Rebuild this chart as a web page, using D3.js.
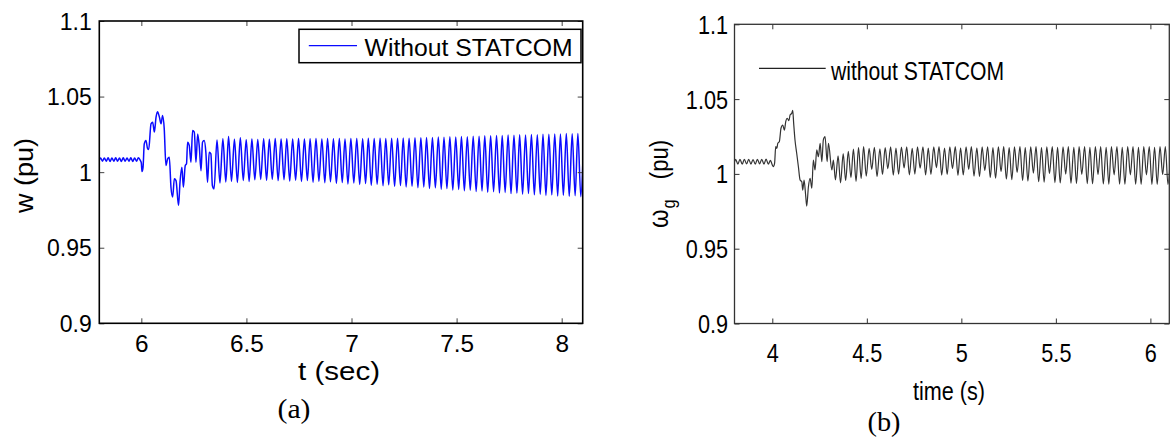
<!DOCTYPE html>
<html><head><meta charset="utf-8">
<script src="https://cdn.jsdelivr.net/npm/d3@7"></script>
<style>body{margin:0;background:#fff}svg{display:block}</style>
</head><body>
<svg id="c" width="1171" height="440"></svg>
<script>
// ---------------- DATA ----------------
const yTicks = [0.9, 0.95, 1, 1.05, 1.1];
const xTicksA = [6, 6.5, 7, 7.5, 8];
const xTicksB = [4, 4.5, 5, 5.5, 6];
const legendA = "Without STATCOM";
const legendB = "without STATCOM";

// Panel (a): rotor speed w (pu) vs t (sec)
const aPreFault = [[5.800,1.0082],[5.806,1.0094],[5.815,1.0072],[5.824,1.0094],[5.833,1.0072],[5.842,1.0095],[5.851,1.0071],[5.860,1.0094],[5.869,1.0072],[5.878,1.0095],[5.887,1.0072],[5.896,1.0094],[5.905,1.0071],[5.914,1.0095],[5.923,1.0072],[5.932,1.0094],[5.941,1.0072],[5.950,1.0095],[5.959,1.0071],[5.968,1.0094],[5.977,1.0072],[5.986,1.0095],[5.995,1.0078]];
const aTransient = [[6.000,1.0060],[6.003,1.0004],[6.008,1.0030],[6.014,1.0187],[6.022,1.0209],[6.030,1.0154],[6.035,1.0150],[6.046,1.0320],[6.054,1.0330],[6.062,1.0265],[6.070,1.0364],[6.077,1.0400],[6.086,1.0364],[6.094,1.0320],[6.101,1.0374],[6.109,1.0286],[6.117,1.0044],[6.125,1.0088],[6.133,1.0099],[6.141,0.9900],[6.149,0.9835],[6.157,0.9956],[6.165,0.9944],[6.177,0.9779],[6.184,0.9934],[6.193,1.0033],[6.200,0.9900],[6.209,1.0044],[6.215,1.0055],[6.220,1.0198],[6.228,1.0176],[6.236,1.0066],[6.244,1.0275],[6.252,1.0265],[6.260,1.0066],[6.268,1.0253],[6.276,1.0165],[6.284,1.0010],[6.291,1.0198],[6.299,1.0209],[6.307,1.0132],[6.315,0.9934],[6.323,1.0132],[6.331,1.0121],[6.338,0.9912],[6.346,0.9890]];
const aSteady = [[6.360,1.0212],[6.374,0.9928],[6.388,1.0221],[6.402,0.9935],[6.415,1.0236],[6.429,0.9940],[6.443,1.0218],[6.457,0.9932],[6.471,1.0228],[6.485,0.9945],[6.499,1.0214],[6.513,0.9938],[6.526,1.0219],[6.540,0.9950],[6.554,1.0216],[6.568,0.9952],[6.582,1.0221],[6.596,0.9946],[6.609,1.0218],[6.623,0.9953],[6.637,1.0222],[6.651,0.9944],[6.665,1.0219],[6.679,0.9950],[6.692,1.0221],[6.706,0.9941],[6.720,1.0220],[6.734,0.9947],[6.748,1.0222],[6.762,0.9938],[6.776,1.0219],[6.790,0.9944],[6.803,1.0221],[6.817,0.9934],[6.831,1.0222],[6.845,0.9940],[6.859,1.0220],[6.873,0.9930],[6.886,1.0222],[6.900,0.9936],[6.914,1.0221],[6.928,0.9926],[6.942,1.0223],[6.956,0.9931],[6.969,1.0220],[6.983,0.9922],[6.997,1.0222],[7.011,0.9928],[7.025,1.0223],[7.039,0.9919],[7.053,1.0221],[7.067,0.9925],[7.080,1.0224],[7.094,0.9914],[7.108,1.0222],[7.122,0.9920],[7.136,1.0224],[7.150,0.9910],[7.163,1.0223],[7.177,0.9916],[7.191,1.0225],[7.205,0.9906],[7.219,1.0224],[7.233,0.9911],[7.246,1.0226],[7.260,0.9902],[7.274,1.0225],[7.288,0.9907],[7.302,1.0228],[7.316,0.9897],[7.330,1.0227],[7.344,0.9902],[7.357,1.0230],[7.371,0.9892],[7.385,1.0229],[7.399,0.9897],[7.413,1.0232],[7.427,0.9887],[7.440,1.0231],[7.454,0.9892],[7.468,1.0234],[7.482,0.9882],[7.496,1.0233],[7.510,0.9886],[7.523,1.0236],[7.537,0.9877],[7.551,1.0235],[7.565,0.9881],[7.579,1.0238],[7.593,0.9872],[7.607,1.0237],[7.621,0.9876],[7.634,1.0240],[7.648,0.9867],[7.662,1.0240],[7.676,0.9871],[7.690,1.0243],[7.704,0.9862],[7.717,1.0242],[7.731,0.9866],[7.745,1.0245],[7.759,0.9858],[7.773,1.0244],[7.787,0.9862],[7.800,1.0247],[7.814,0.9854],[7.828,1.0246],[7.842,0.9858],[7.856,1.0249],[7.870,0.9850],[7.884,1.0248],[7.898,0.9854],[7.911,1.0251],[7.925,0.9846],[7.939,1.0250],[7.953,0.9850],[7.967,1.0253],[7.981,0.9843],[7.994,1.0252],[8.008,0.9847],[8.022,1.0255],[8.036,0.9840],[8.050,1.0254],[8.064,0.9844],[8.077,1.0256],[8.091,0.9838],[8.105,1.0255]];

// Panel (b): generator speed wg (pu) vs time (s)
const bPreFault = [[3.800,1.0080],[3.806,1.0097],[3.818,1.0066],[3.829,1.0098],[3.841,1.0065],[3.852,1.0097],[3.864,1.0067],[3.875,1.0098],[3.887,1.0066],[3.898,1.0096],[3.910,1.0065],[3.921,1.0098],[3.933,1.0067],[3.944,1.0097],[3.956,1.0066],[3.967,1.0099],[3.979,1.0065],[3.990,1.0090],[4.000,1.0060],[4.005,1.0048]];
const bTransient = [[4.012,1.0070],[4.018,1.0182],[4.024,1.0170],[4.029,1.0205],[4.037,1.0215],[4.046,1.0305],[4.055,1.0327],[4.064,1.0293],[4.071,1.0349],[4.079,1.0372],[4.088,1.0356],[4.094,1.0394],[4.103,1.0405],[4.108,1.0425],[4.113,1.0338],[4.120,1.0227],[4.129,1.0138],[4.138,1.0048],[4.147,0.9959],[4.156,0.9948],[4.161,0.9892],[4.168,0.9959],[4.177,0.9848],[4.182,0.9785],[4.191,0.9914],[4.200,0.9971],[4.209,0.9904],[4.217,1.0093],[4.226,1.0026],[4.235,1.0160],[4.244,1.0115],[4.253,1.0205],[4.262,1.0082],[4.270,1.0227],[4.279,1.0249],[4.290,1.0082],[4.297,1.0205],[4.315,1.0026],[4.323,1.0093],[4.334,0.9960],[4.348,1.0120],[4.361,0.9940],[4.375,1.0135],[4.388,0.9955],[4.402,1.0150],[4.416,0.9975],[4.429,1.0165],[4.443,0.9950],[4.456,1.0175],[4.470,0.9970]];
const bSteady = [[4.483,1.0182],[4.497,0.9985],[4.512,1.0170],[4.526,1.0030],[4.540,1.0178],[4.554,0.9982],[4.569,1.0168],[4.583,0.9996],[4.597,1.0176],[4.611,1.0035],[4.626,1.0180],[4.640,0.9992],[4.654,1.0172],[4.668,0.9998],[4.683,1.0179],[4.697,1.0040],[4.711,1.0181],[4.725,0.9994],[4.740,1.0170],[4.754,0.9999],[4.768,1.0180],[4.782,1.0038],[4.797,1.0181],[4.811,0.9993],[4.825,1.0172],[4.839,0.9997],[4.854,1.0180],[4.868,1.0042],[4.882,1.0182],[4.896,0.9992],[4.911,1.0173],[4.925,0.9996],[4.939,1.0181],[4.953,1.0036],[4.968,1.0182],[4.982,0.9990],[4.996,1.0174],[5.010,0.9993],[5.025,1.0181],[5.039,1.0030],[5.053,1.0182],[5.067,0.9985],[5.082,1.0174],[5.096,0.9982],[5.110,1.0180],[5.124,1.0022],[5.139,1.0181],[5.153,0.9976],[5.167,1.0175],[5.181,0.9972],[5.196,1.0181],[5.210,1.0015],[5.224,1.0182],[5.238,0.9966],[5.253,1.0175],[5.267,0.9962],[5.281,1.0181],[5.295,1.0010],[5.310,1.0182],[5.324,0.9956],[5.338,1.0176],[5.352,0.9952],[5.367,1.0180],[5.381,1.0005],[5.395,1.0182],[5.409,0.9948],[5.424,1.0176],[5.438,0.9945],[5.452,1.0181],[5.466,1.0002],[5.481,1.0182],[5.495,0.9942],[5.509,1.0177],[5.523,0.9940],[5.538,1.0181],[5.552,0.9998],[5.566,1.0183],[5.580,0.9938],[5.595,1.0177],[5.609,0.9936],[5.623,1.0182],[5.637,0.9996],[5.652,1.0183],[5.666,0.9935],[5.680,1.0177],[5.694,0.9934],[5.709,1.0182],[5.723,0.9995],[5.737,1.0183],[5.751,0.9933],[5.766,1.0178],[5.780,0.9932],[5.794,1.0182],[5.808,0.9994],[5.823,1.0183],[5.837,0.9932],[5.851,1.0178],[5.865,0.9931],[5.880,1.0182],[5.894,0.9994],[5.908,1.0183],[5.922,0.9931],[5.937,1.0178],[5.951,0.9930],[5.965,1.0182],[5.979,0.9994],[5.994,1.0183],[6.008,0.9930],[6.022,1.0178],[6.036,0.9930],[6.051,1.0182],[6.065,0.9995],[6.079,1.0183],[6.093,0.9930],[6.108,1.0180]];

// ---------------- DRAW ----------------
const svg = d3.select("#c");
svg.append("rect").attr("width",1171).attr("height",440).attr("fill","#fff");

function panel(o){
  const g = svg.append("g");
  const x = d3.scaleLinear().domain(o.xDomain).range([o.left,o.right]);
  const y = d3.scaleLinear().domain([0.9,1.1]).range([o.bottom,o.top]);
  const fmt = d => String(d);
  const cid = "clip"+o.id;
  svg.append("clipPath").attr("id",cid).append("rect")
    .attr("x",o.left).attr("y",o.top).attr("width",o.right-o.left).attr("height",o.bottom-o.top);

  const data = [].concat(...o.series);
  g.append("path").datum(data)
    .attr("clip-path","url(#"+cid+")")
    .attr("fill","none").attr("stroke",o.lineColor).attr("stroke-width",o.lineWidth)
    .attr("stroke-linejoin","round")
    .attr("d", d3.line().curve(d3.curveMonotoneX).x(d=>x(d[0])).y(d=>y(d[1])));

  const ax = (gen, tx, ty) => {
    const a = g.append("g").attr("transform",`translate(${tx},${ty})`).call(gen);
    a.select(".domain").remove();
    a.selectAll(".tick line").attr("stroke",o.tickColor);
    a.selectAll("text").attr("font-family",o.font).attr("fill","#000");
    return a;
  };
  const left = ax(d3.axisLeft(y).tickValues(yTicks).tickFormat(fmt).tickSize(-5).tickPadding(0), o.left, 0);
  left.selectAll("text").attr("font-size",o.tickFont).attr("dy","0.35em")
    .attr("x", -o.yLabGap/o.tickScaleY).attr("transform",`scale(${o.tickScaleY},1)`);
  ax(d3.axisRight(y).tickValues(yTicks).tickFormat("").tickSize(-5), o.right, 0);
  const bottom = ax(d3.axisBottom(x).tickValues(o.xTicks).tickFormat(fmt).tickSize(-5).tickPadding(0), 0, o.bottom);
  bottom.selectAll("text").attr("font-size",o.tickFont).attr("dy",null)
    .attr("y", o.xLabBase).attr("transform",`scale(${o.tickScaleX},1)`).attr("x", 0);
  ax(d3.axisTop(x).tickValues(o.xTicks).tickFormat("").tickSize(-5), 0, o.top);

  g.append("rect").attr("x",o.left).attr("y",o.top)
    .attr("width",o.right-o.left).attr("height",o.bottom-o.top)
    .attr("fill","none").attr("stroke",o.frameColor).attr("stroke-width",o.frameWidth);
  return {x,y,g};
}

// ---- Panel (a)
const A = panel({id:"a", xDomain:[5.8,8.1], xTicks:xTicksA, left:99.3, right:582.7, top:21, bottom:323.3,
  series:[aPreFault,aTransient,aSteady], lineColor:"#0a0aff", lineWidth:1.5,
  tickColor:"#444", frameColor:"#000", frameWidth:1.6, font:"Liberation Sans, Arial, sans-serif",
  tickFont:23, tickScaleX:1.06, tickScaleY:1, yLabGap:7.5, xLabBase:28.4});

A.g.append("rect").attr("x",299).attr("y",29.3).attr("width",282).attr("height",33.4)
  .attr("fill","#fff").attr("stroke","#000").attr("stroke-width",1.5);
A.g.append("line").attr("x1",308.8).attr("x2",357).attr("y1",45.7).attr("y2",45.7)
  .attr("stroke","#0a0aff").attr("stroke-width",1.3);
A.g.append("text").attr("x",364.6).attr("y",56).text(legendA)
  .attr("font-family","Liberation Sans, Arial, sans-serif").attr("font-size",23.5)
  .attr("textLength",208).attr("lengthAdjust","spacingAndGlyphs");
A.g.append("text").attr("transform","translate(33,175.5) rotate(-90)").attr("text-anchor","middle")
  .attr("font-family","Liberation Sans, Arial, sans-serif").attr("font-size",26)
  .attr("textLength",75).attr("lengthAdjust","spacingAndGlyphs").text("w (pu)");
A.g.append("text").attr("x",339).attr("y",380).attr("text-anchor","middle")
  .attr("font-family","Liberation Sans, Arial, sans-serif").attr("font-size",25)
  .attr("textLength",82).attr("lengthAdjust","spacingAndGlyphs").text("t (sec)");
A.g.append("text").attr("x",294).attr("y",418).attr("text-anchor","middle")
  .attr("font-family","'Liberation Serif', 'Times New Roman', serif").attr("font-size",27)
  .attr("textLength",33).attr("lengthAdjust","spacingAndGlyphs").text("(a)");

// ---- Panel (b)
const B = panel({id:"b", xDomain:[3.8,6.1], xTicks:xTicksB, left:734.5, right:1169.3, top:24.3, bottom:323.5,
  series:[bPreFault,bTransient,bSteady], lineColor:"#333", lineWidth:1.2,
  tickColor:"#333", frameColor:"#333", frameWidth:1.3, font:"Liberation Sans, Arial, sans-serif",
  tickFont:25.5, tickScaleX:0.85, tickScaleY:0.85, yLabGap:6.5, xLabBase:38.2});

B.g.append("line").attr("x1",759).attr("x2",825.7).attr("y1",68.3).attr("y2",68.3)
  .attr("stroke","#222").attr("stroke-width",1.2);
B.g.append("text").attr("x",831).attr("y",79.5).text(legendB)
  .attr("font-family","Liberation Sans, Arial, sans-serif").attr("font-size",26)
  .attr("textLength",173).attr("lengthAdjust","spacingAndGlyphs");
const yl = B.g.append("text").attr("transform","translate(668,228) rotate(-90) scale(0.85,1)")
  .attr("font-family","Liberation Sans, Arial, sans-serif").attr("font-size",26);
yl.append("tspan").attr("font-size",28).text("ω");
yl.append("tspan").attr("font-size",19).attr("dy",7).attr("dx",1).text("g");
yl.append("tspan").attr("dy",-7).attr("dx",24).text("(pu)");
B.g.append("text").attr("x",949).attr("y",400).attr("text-anchor","middle")
  .attr("font-family","Liberation Sans, Arial, sans-serif").attr("font-size",25)
  .attr("textLength",72).attr("lengthAdjust","spacingAndGlyphs").text("time (s)");
B.g.append("text").attr("x",884).attr("y",431).attr("text-anchor","middle")
  .attr("font-family","'Liberation Serif', 'Times New Roman', serif").attr("font-size",27)
  .attr("textLength",33).attr("lengthAdjust","spacingAndGlyphs").text("(b)");
</script>
</body></html>
